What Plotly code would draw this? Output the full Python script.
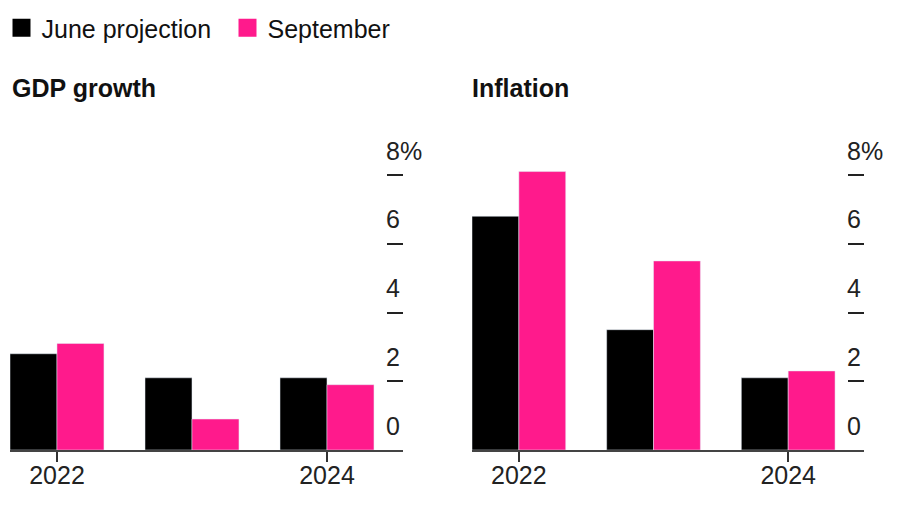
import plotly.graph_objects as go

years = [2022, 2023, 2024]
gdp_june = [2.8, 2.1, 2.1]
gdp_sept = [3.1, 0.9, 1.9]
infl_june = [6.8, 3.5, 2.1]
infl_sept = [8.1, 5.5, 2.3]
y_ticks = [0, 2, 4, 6, 8]
y_ticktext = ["0", "2", "4", "6", "8%"]
x_ticks = [2022, 2024]
panel_titles = ["GDP growth", "Inflation"]
series_names = ["June projection", "September"]

BLACK = "#000000"
PINK = "#FF1A8C"
FONT = "Liberation Sans"

W, H = 900, 510
OX, OY = 8, 8  # page offset of the plot in the browser


def px(x):
    return (x - OX) / W


def py(y):
    return 1 - (y - OY) / H


fig = go.Figure()

fig.add_trace(go.Bar(x=years, y=gdp_june, marker_color=BLACK, name=series_names[0],
                     showlegend=False, xaxis="x", yaxis="y"))
fig.add_trace(go.Bar(x=years, y=gdp_sept, marker_color=PINK, name=series_names[1],
                     showlegend=False, xaxis="x", yaxis="y"))
fig.add_trace(go.Bar(x=years, y=infl_june, marker_color=BLACK, name=series_names[0],
                     showlegend=False, xaxis="x2", yaxis="y2"))
fig.add_trace(go.Bar(x=years, y=infl_sept, marker_color=PINK, name=series_names[1],
                     showlegend=False, xaxis="x2", yaxis="y2"))

# legend entries
for nm, col in zip(series_names, [BLACK, PINK]):
    fig.add_trace(go.Scatter(x=[None], y=[None], mode="markers", name=nm,
                             marker=dict(symbol="square", size=16, color=col,
                                         line=dict(color=col, width=2)),
                             xaxis="x", yaxis="y"))

ydom = [py(450), py(150)]
yrange = [0, 300 / 34.375]
xrange = [2022 - 0.348, 2024.563]

xcommon = dict(range=xrange, tickvals=x_ticks, ticks="outside", ticklen=10, tickwidth=1.5,
               tickcolor="#333333", showline=True, linecolor="#444444", linewidth=2,
               showgrid=False, zeroline=False, fixedrange=True, ticklabelstandoff=-8,
               tickfont=dict(family=FONT, size=25, color="#222222"))
ycommon = dict(range=yrange, domain=ydom, side="right", tickvals=y_ticks, ticktext=y_ticktext,
               ticks="inside", ticklen=16, tickwidth=1.5, tickcolor="#222222",
               showline=False, showgrid=False, zeroline=False,
               ticklabelposition="outside top", ticklabelstandoff=-18, ticklabelshift=-6,
               tickfont=dict(family=FONT, size=25, color="#222222"))

fig.update_layout(
    width=W, height=H,
    margin=dict(l=0, r=0, t=0, b=0, autoexpand=False),
    paper_bgcolor="white", plot_bgcolor="white",
    barmode="group", bargap=0.304, bargroupgap=0,
    font=dict(family=FONT, color="#111111"),
    xaxis=dict(domain=[px(10), px(403)], anchor="y", **xcommon),
    yaxis=dict(anchor="x", **ycommon),
    xaxis2=dict(domain=[px(472), px(864)], anchor="y2", **xcommon),
    yaxis2=dict(anchor="x2", **ycommon),
    legend=dict(orientation="h", x=px(1.5), xanchor="left", y=py(28), yanchor="middle",
                entrywidth=181,
                font=dict(family=FONT, size=25, color="#111111"), bgcolor="rgba(0,0,0,0)",
                itemclick=False, itemdoubleclick=False),
    showlegend=True,
)

for title, xl in zip(panel_titles, [10, 470]):
    fig.add_annotation(text="<b>" + title + "</b>", xref="paper", yref="paper",
                       x=px(xl), y=py(88), xanchor="left", yanchor="middle",
                       showarrow=False, font=dict(family=FONT, size=25, color="#111111"))

fig.write_html("out.html")
